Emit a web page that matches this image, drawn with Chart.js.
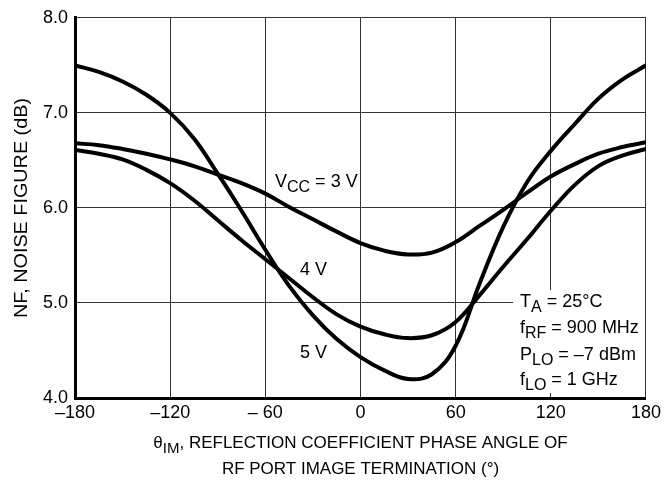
<!DOCTYPE html>
<html>
<head>
<meta charset="utf-8">
<script src="https://cdn.jsdelivr.net/npm/chart.js@4.4.1/dist/chart.umd.min.js"></script>
<style>
    html, body { margin: 0; padding: 0; background: #fff; }
    #wrap { width: 665px; height: 489px; }
</style>
</head>
<body>
<div id="wrap"><canvas id="nfChart" width="665" height="489"></canvas></div>
<script>
// phase angle (deg), read every 15 degrees
const angles = [-180, -165, -150, -135, -120, -105, -90, -75, -60, -45, -30, -15, 0,
    15, 30, 45, 60, 75, 90, 105, 120, 135, 150, 165, 180];

// noise figure (dB) per supply voltage
const nf3V = [6.68, 6.66, 6.62, 6.57, 6.51, 6.44, 6.35, 6.26, 6.15, 6.01, 5.88, 5.75, 5.63,
    5.55, 5.51, 5.53, 5.64, 5.81, 5.98, 6.16, 6.33, 6.46, 6.57, 6.64, 6.69];
const nf4V = [6.61, 6.57, 6.51, 6.40, 6.26, 6.08, 5.87, 5.66, 5.46, 5.26, 5.06, 4.88, 4.75,
    4.67, 4.63, 4.66, 4.80, 5.08, 5.38, 5.67, 5.97, 6.24, 6.44, 6.55, 6.62];
const nf5V = [7.50, 7.43, 7.33, 7.19, 7.00, 6.73, 6.36, 5.97, 5.56, 5.18, 4.87, 4.62, 4.43,
    4.29, 4.20, 4.25, 4.55, 5.20, 5.80, 6.27, 6.60, 6.88, 7.15, 7.35, 7.50];

const xTicks = [-180, -120, -60, 0, 60, 120, 180];
const xTickLabels = ['\u2013180', '\u2013120', '\u2013 60', '0', '60', '120', '180'];
const yTicks = [4, 5, 6, 7, 8];
const yTickLabels = ['4.0', '5.0', '6.0', '7.0', '8.0'];

const FONT = "'Liberation Sans', Arial, sans-serif";

function toPoints(values) {
    return angles.map((a, i) => ({ x: a, y: values[i] }));
}

function curve(values) {
    return {
        data: toPoints(values),
        borderColor: '#000',
        borderWidth: 4,
        pointRadius: 0,
        fill: false,
        tension: 0.4
    };
}

// draws text made of [text, isSubscript] parts, starting at x
function drawParts(ctx, parts, x, y, size, subSize) {
    let cx = x;
    parts.forEach(([txt, sub]) => {
        ctx.font = (sub ? subSize : size) + 'px ' + FONT;
        ctx.fillText(txt, cx, sub ? y + 5 : y);
        cx += ctx.measureText(txt).width;
    });
    return cx - x;
}

function partsWidth(ctx, parts, size, subSize) {
    let w = 0;
    parts.forEach(([txt, sub]) => {
        ctx.font = (sub ? subSize : size) + 'px ' + FONT;
        w += ctx.measureText(txt).width;
    });
    return w;
}

const notesPlugin = {
    id: 'notes',
    beforeDatasetsDraw(chart) {
        // white patch behind the conditions block
        const ctx = chart.ctx;
        ctx.save();
        ctx.fillStyle = '#fff';
        ctx.fillRect(513, 290, chart.chartArea.right - 514, 103);
        ctx.restore();
    },
    afterDraw(chart) {
        const ctx = chart.ctx;
        const area = chart.chartArea;
        ctx.save();
        ctx.fillStyle = '#000';
        ctx.textBaseline = 'alphabetic';
        ctx.textAlign = 'left';

        // curve labels
        drawParts(ctx, [['V', false], ['CC', true], [' = 3 V', false]], 275, 187, 18, 16);
        drawParts(ctx, [['4 V', false]], 300, 275, 18, 16);
        drawParts(ctx, [['5 V', false]], 300, 358, 18, 16);

        // test conditions
        drawParts(ctx, [['T', false], ['A', true], [' = 25\u00b0C', false]], 520, 307, 18, 16);
        drawParts(ctx, [['f', false], ['RF', true], [' = 900 MHz', false]], 520, 333, 18, 16);
        drawParts(ctx, [['P', false], ['LO', true], [' = \u20137 dBm', false]], 520, 360, 18, 16);
        drawParts(ctx, [['f', false], ['LO', true], [' = 1 GHz', false]], 520, 385, 18, 16);

        // x axis title
        const cx = (area.left + area.right) / 2;
        const line1 = [['\u03b8', false], ['IM', true], [', REFLECTION COEFFICIENT PHASE ANGLE OF', false]];
        const w1 = partsWidth(ctx, line1, 17, 15);
        drawParts(ctx, line1, cx - w1 / 2, 448, 17, 15);
        const line2 = [['RF PORT IMAGE TERMINATION (\u00b0)', false]];
        const w2 = partsWidth(ctx, line2, 17, 15);
        drawParts(ctx, line2, cx - w2 / 2, 474, 17, 15);

        // y axis title
        ctx.translate(22, 208);
        ctx.rotate(-Math.PI / 2);
        ctx.scale(1.1, 1);
        ctx.textAlign = 'center';
        ctx.textBaseline = 'middle';
        ctx.font = '18px ' + FONT;
        ctx.fillText('NF, NOISE FIGURE (dB)', 0, 0);
        ctx.restore();
    }
};

new Chart(document.getElementById('nfChart'), {
    type: 'line',
    data: {
        datasets: [curve(nf5V), curve(nf4V), curve(nf3V)]
    },
    plugins: [notesPlugin],
    options: {
        responsive: false,
        animation: false,
        layout: { padding: { left: 0, top: 15, right: 17, bottom: 0 } },
        plugins: {
            legend: { display: false },
            tooltip: { enabled: false }
        },
        scales: {
            x: {
                type: 'linear',
                min: -180,
                max: 180,
                afterFit: (scale) => { scale.height = 91; },
                afterBuildTicks: (scale) => { scale.ticks = xTicks.map(v => ({ value: v })); },
                grid: { color: '#333', lineWidth: 1, drawTicks: false },
                border: { color: '#000', width: 3 },
                ticks: {
                    color: '#000',
                    padding: 4,
                    font: { family: FONT, size: 18 },
                    callback: (v) => xTickLabels[xTicks.indexOf(v)]
                }
            },
            y: {
                min: 4,
                max: 8,
                afterFit: (scale) => { scale.width = 75; },
                afterBuildTicks: (scale) => { scale.ticks = yTicks.map(v => ({ value: v })); },
                grid: { color: '#333', lineWidth: 1, drawTicks: false },
                border: { color: '#000', width: 3 },
                ticks: {
                    color: '#000',
                    padding: 7,
                    font: { family: FONT, size: 18 },
                    callback: (v) => yTickLabels[yTicks.indexOf(v)]
                }
            }
        }
    }
});
</script>
</body>
</html>
